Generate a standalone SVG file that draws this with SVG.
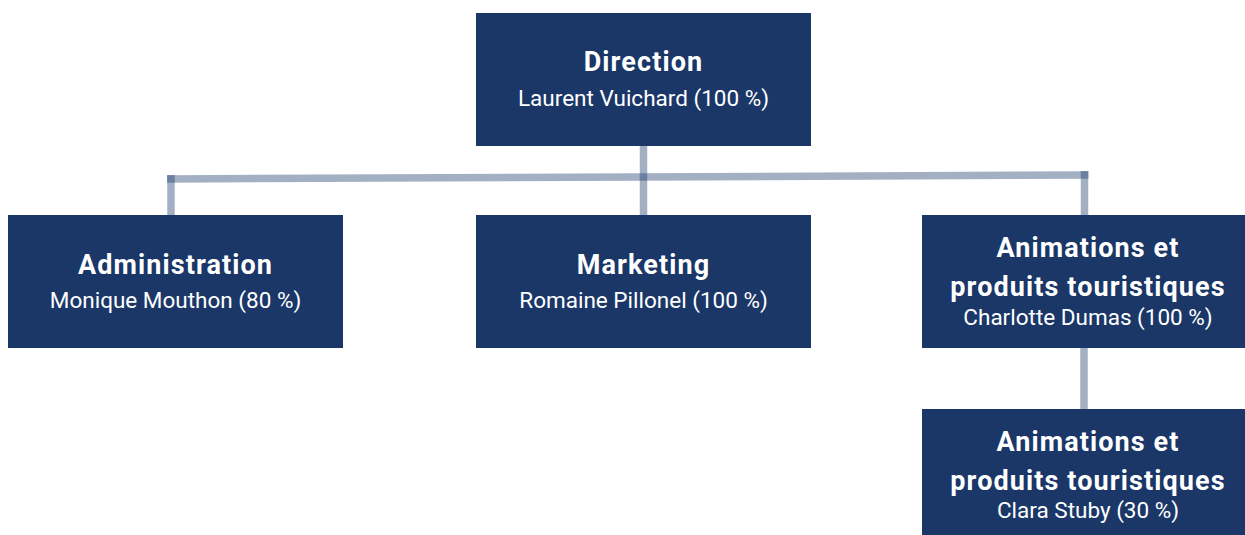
<svg xmlns="http://www.w3.org/2000/svg" width="1245" height="535" viewBox="0 0 1245 535">
<style>
.box{fill:#1a3768}
.t{font-family:Roboto,"Liberation Sans",sans-serif;font-weight:bold;font-size:27px;letter-spacing:1.1px;fill:#ffffff;text-anchor:middle}
.s{font-family:Roboto,"Liberation Sans",sans-serif;font-size:22.5px;fill:#ffffff;text-anchor:middle}
.c{stroke:#1a3768;stroke-opacity:0.4;stroke-width:7.5;fill:none;stroke-linecap:butt}
</style>
<rect width="1245" height="535" fill="#ffffff"/>
<g id="connectors">
<line class="c" x1="167" y1="179" x2="1088.5" y2="175"/>
<line class="c" x1="171" y1="175" x2="171" y2="215"/>
<line class="c" x1="643.5" y1="146" x2="643.5" y2="215"/>
<line class="c" x1="1084.5" y1="171" x2="1084.5" y2="215"/>
<line class="c" x1="1084" y1="347" x2="1084" y2="409"/>
</g>
<g id="direction">
<rect class="box" x="476" y="13" width="335" height="133"/>
<text class="t" x="643.5" y="71">Direction</text>
<text class="s" x="643.5" y="106">Laurent Vuichard (100 %)</text>
</g>
<g id="administration">
<rect class="box" x="8" y="215" width="335" height="133"/>
<text class="t" x="175.5" y="274">Administration</text>
<text class="s" x="175.5" y="308">Monique Mouthon (80 %)</text>
</g>
<g id="marketing">
<rect class="box" x="476" y="215" width="335" height="133"/>
<text class="t" x="643.5" y="274">Marketing</text>
<text class="s" x="643.5" y="308">Romaine Pillonel (100 %)</text>
</g>
<g id="animations1">
<rect class="box" x="922" y="215" width="323" height="133"/>
<text class="t" x="1088" y="257">Animations et</text>
<text class="t" x="1088" y="296">produits touristiques</text>
<text class="s" x="1088" y="325">Charlotte Dumas (100 %)</text>
</g>
<g id="animations2">
<rect class="box" x="922" y="409" width="323" height="126"/>
<text class="t" x="1088" y="451">Animations et</text>
<text class="t" x="1088" y="490">produits touristiques</text>
<text class="s" x="1088" y="518">Clara Stuby (30 %)</text>
</g>
</svg>
